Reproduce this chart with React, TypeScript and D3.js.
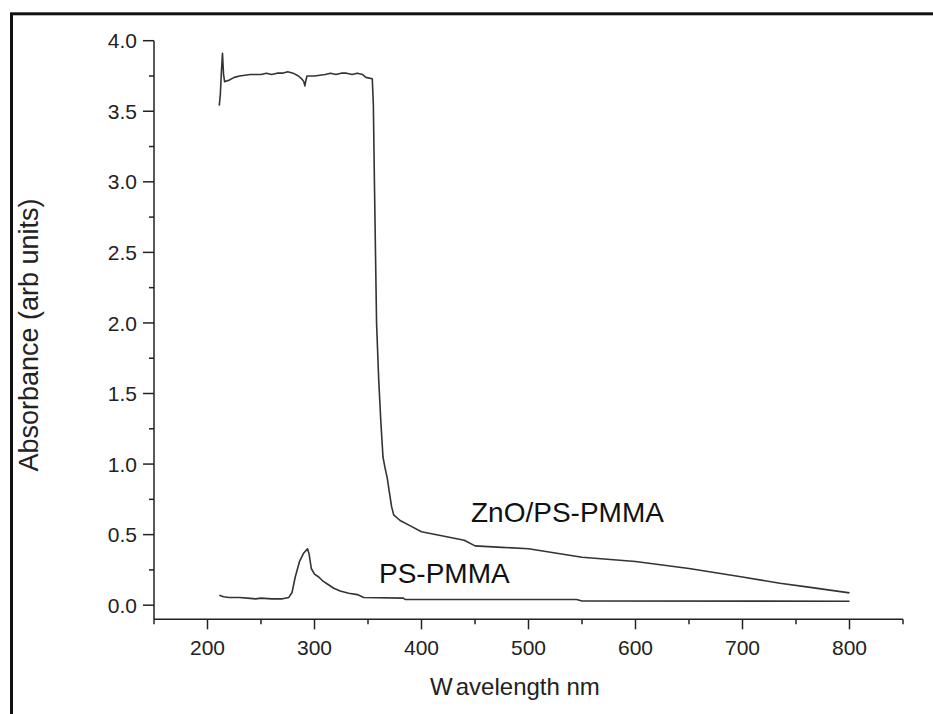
import * as d3 from "d3";

// ZnO/PS-PMMA absorbance spectrum (wavelength nm, absorbance)
const znoWavelength = [
  211, 212, 213, 214, 215, 216, 220, 225, 230, 240, 250, 255, 260, 265, 270, 275, 280, 285, 288, 290,
  291, 292, 293, 300, 310, 315, 320, 325, 330, 335, 340, 345, 348, 354, 355, 356, 357, 358, 360, 362,
  364, 366, 368, 370, 372, 374, 380, 390, 400, 420, 440, 450, 475, 500, 525, 550, 600, 650, 700, 735,
  760, 800,
];
const znoAbsorbance = [
  3.54, 3.62, 3.78, 3.91, 3.76, 3.71, 3.72, 3.74, 3.75, 3.76, 3.76, 3.77, 3.76, 3.77, 3.77, 3.78, 3.77, 3.75, 3.73, 3.71,
  3.68, 3.72, 3.75, 3.75, 3.76, 3.77, 3.76, 3.77, 3.77, 3.76, 3.77, 3.76, 3.74, 3.73, 3.55, 3.0, 2.5, 2.0, 1.6, 1.3,
  1.05, 0.97, 0.9, 0.8, 0.7, 0.64, 0.6, 0.56, 0.52, 0.49, 0.46, 0.42, 0.41, 0.4, 0.37, 0.34, 0.31, 0.26, 0.2, 0.155,
  0.13, 0.087,
];

// PS-PMMA absorbance spectrum
const psWavelength = [
  211, 215, 220, 230, 240, 245, 250, 260, 270, 276, 279, 282, 286, 290, 293.5, 295, 297, 300, 304, 308,
  312, 318, 324, 332, 340, 346, 383, 385, 545, 550, 800,
];
const psAbsorbance = [
  0.07, 0.06, 0.055, 0.055, 0.048, 0.045, 0.05, 0.045, 0.045, 0.055, 0.09, 0.2, 0.31, 0.37, 0.4, 0.36, 0.26, 0.22, 0.2, 0.17,
  0.15, 0.12, 0.1, 0.085, 0.075, 0.055, 0.05, 0.04, 0.04, 0.03, 0.028,
];

const xMajorTicks = [200, 300, 400, 500, 600, 700, 800];
const xMinorTicks = [150, 250, 350, 450, 550, 650, 750, 850];
const yMajorTicks = [0, 0.5, 1, 1.5, 2, 2.5, 3, 3.5, 4];
const yMinorTicks = [0.25, 0.75, 1.25, 1.75, 2.25, 2.75, 3.25, 3.75];

export default function App() {
  const width = 933;
  const height = 714;
  const marginLeft = 154;
  const marginRight = 30;
  const marginTop = 40.7;
  const axisY = 619.3;

  const font = "'Liberation Sans', Arial, Helvetica, sans-serif";
  const ink = "#222";

  const xScale = d3
    .scaleLinear()
    .domain([150, 850])
    .range([marginLeft, width - marginRight]);

  const yScale = d3.scaleLinear().domain([-0.1, 4.0]).range([axisY, marginTop]);

  const zno = znoWavelength.map((w, i) => ({ w, a: znoAbsorbance[i] }));
  const ps = psWavelength.map((w, i) => ({ w, a: psAbsorbance[i] }));

  const lineBuilder = d3
    .line<{ w: number; a: number }>()
    .x((d) => xScale(d.w))
    .y((d) => yScale(d.a));

  return (
    <svg
      width={width}
      height={height}
      style={{ position: "absolute", left: 0, top: 0, display: "block", background: "#fff" }}
      fontFamily={font}
    >
      {/* outer frame, runs off the right and bottom */}
      <rect x={11.5} y={13.8} width={1000} height={800} fill="none" stroke="#111" strokeWidth={3} />

      {/* spectra */}
      <path d={lineBuilder(zno) ?? ""} fill="none" stroke="#333" strokeWidth={1.6} strokeLinejoin="round" />
      <path d={lineBuilder(ps) ?? ""} fill="none" stroke="#333" strokeWidth={1.6} strokeLinejoin="round" />

      {/* X axis */}
      <g>
        <line x1={xScale(150)} x2={xScale(850)} y1={axisY} y2={axisY} stroke={ink} strokeWidth={1.5} />
        {xMajorTicks.map((tick) => (
          <g key={tick}>
            <line x1={xScale(tick)} x2={xScale(tick)} y1={axisY} y2={axisY + 10} stroke={ink} strokeWidth={1.5} />
            <text x={xScale(tick)} y={655} textAnchor="middle" fontSize={21} fill={ink}>
              {tick}
            </text>
          </g>
        ))}
        {xMinorTicks.map((tick) => (
          <line key={tick} x1={xScale(tick)} x2={xScale(tick)} y1={axisY} y2={axisY + 5} stroke={ink} strokeWidth={1.5} />
        ))}
        <text x={430} y={695} fontSize={24} fill={ink}>
          W<tspan dx={4}>avelength nm</tspan>
        </text>
      </g>

      {/* Y axis */}
      <g>
        <line x1={marginLeft} x2={marginLeft} y1={marginTop} y2={axisY} stroke={ink} strokeWidth={1.5} />
        {yMajorTicks.map((tick) => (
          <g key={tick}>
            <line x1={marginLeft - 11} x2={marginLeft} y1={yScale(tick)} y2={yScale(tick)} stroke={ink} strokeWidth={1.5} />
            <text x={137} y={yScale(tick)} dy="0.36em" textAnchor="end" fontSize={21} fill={ink}>
              {tick.toFixed(1)}
            </text>
          </g>
        ))}
        {yMinorTicks.map((tick) => (
          <line key={tick} x1={marginLeft - 5} x2={marginLeft} y1={yScale(tick)} y2={yScale(tick)} stroke={ink} strokeWidth={1.5} />
        ))}
        <text transform="translate(38,335) rotate(-90)" textAnchor="middle" fontSize={27} fill={ink}>
          Absorbance (arb units)
        </text>
      </g>

      {/* curve labels */}
      <text x={471} y={522} fontSize={28} fill="#111">
        ZnO/PS-PMMA
      </text>
      <text x={379} y={583} fontSize={28} fill="#111">
        PS-PMMA
      </text>
    </svg>
  );
}
